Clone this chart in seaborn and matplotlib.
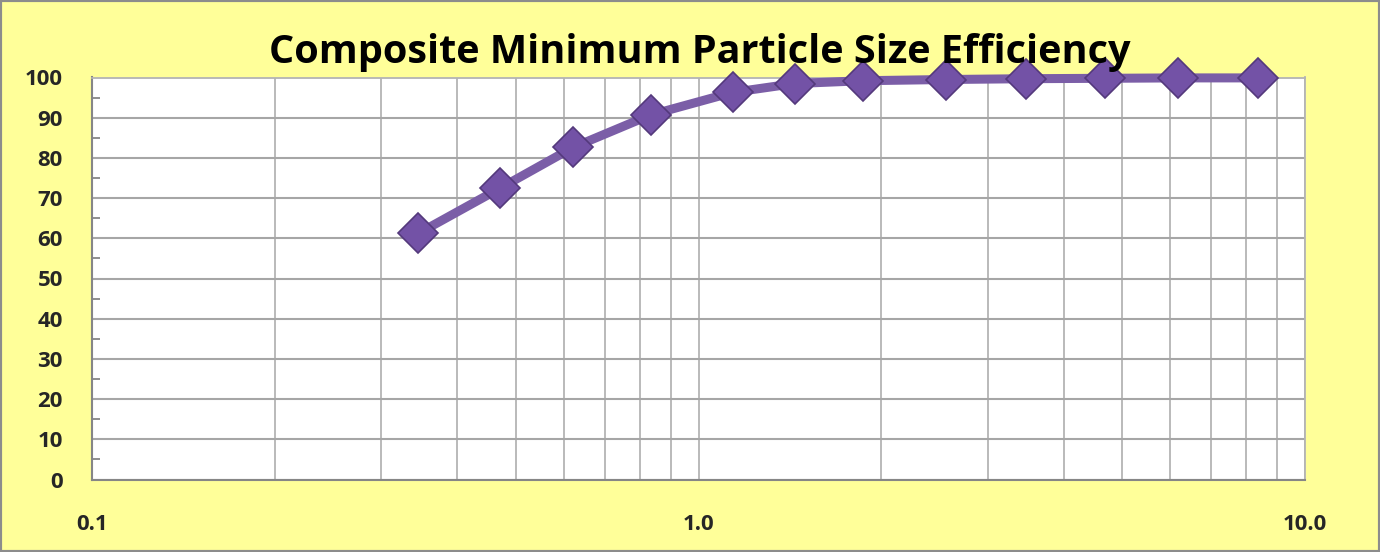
import matplotlib
matplotlib.use("Agg")
import matplotlib.pyplot as plt
import seaborn as sns
import pandas as pd
import numpy as np
from matplotlib.ticker import FixedLocator, LogLocator, MultipleLocator, NullFormatter, FixedFormatter
from matplotlib.patches import Rectangle

# Data
particle_size = [0.345, 0.470, 0.621, 0.834, 1.139, 1.441, 1.870, 2.563, 3.47, 4.68, 6.18, 8.36]
efficiency = [61.2, 72.4, 82.6, 90.7, 96.3, 98.5, 99.2, 99.5, 99.7, 99.8, 99.9, 99.9]
title = "Composite Minimum Particle Size Efficiency"
x_tick_values = [0.1, 1.0, 10.0]
x_tick_labels = ["0.1", "1.0", "10.0"]
y_tick_values = [0, 10, 20, 30, 40, 50, 60, 70, 80, 90, 100]

sns.set_style("white")
plt.rcParams['font.family'] = ['Open Sans', 'DejaVu Sans']

df = pd.DataFrame({"size": particle_size, "eff": efficiency})

fig = plt.figure(figsize=(13.8, 5.52), dpi=100, facecolor="#FFFF99")
ax = fig.add_axes([92/1380, 1-479.5/552, (1305-92)/1380, (479.5-77.5)/552])
ax.set_facecolor("white")

sns.lineplot(data=df, x="size", y="eff", ax=ax, color="#7B5EA7", linewidth=6.5,
             marker="D", markersize=20, markerfacecolor="#7352A6",
             markeredgecolor="#54397C", markeredgewidth=1.2, zorder=5, clip_on=False)

ax.set_xscale("log")
ax.set_xlim(0.1, 10)
ax.set_ylim(0, 100)

ax.xaxis.set_major_locator(FixedLocator(x_tick_values))
ax.xaxis.set_major_formatter(FixedFormatter(x_tick_labels))
ax.xaxis.set_minor_locator(LogLocator(base=10, subs=np.arange(2, 10)))
ax.xaxis.set_minor_formatter(NullFormatter())
ax.yaxis.set_major_locator(FixedLocator(y_tick_values))
ax.yaxis.set_minor_locator(MultipleLocator(5))

ax.grid(True, which="major", axis="y", color="#A6A6A6", linewidth=1.5)
ax.grid(True, which="both", axis="x", color="#B4B4B4", linewidth=1.3)
ax.set_axisbelow(True)

for s in ["top", "right"]:
    ax.spines[s].set_visible(True)
    ax.spines[s].set_color("#B4B4B4")
    ax.spines[s].set_linewidth(1.3)
for s in ["left", "bottom"]:
    ax.spines[s].set_color("#868686")
    ax.spines[s].set_linewidth(1.5)

ax.tick_params(axis="y", which="major", direction="out", length=9, width=1.3, color="#868686",
               labelsize=16, pad=12)
ax.tick_params(axis="y", which="minor", direction="in", length=6, width=1.3, color="#868686", left=True)
ax.tick_params(axis="x", which="major", direction="out", length=9, width=1.3, color="#868686",
               labelsize=16, pad=16)
ax.tick_params(axis="x", which="minor", length=0)
for lab in ax.get_xticklabels() + ax.get_yticklabels():
    lab.set_fontweight("bold")

ax.set_xlabel("")
ax.set_ylabel("")

fig.text(700/1380, 1-52/552, title, ha="center", va="center", fontsize=28.5, fontweight="bold",
         color="black")

fig.patches.append(Rectangle((0, 0), 1, 1, transform=fig.transFigure, fill=False,
                             edgecolor="#8C8C8C", linewidth=3, zorder=10))

fig.savefig("out.png", dpi=100, facecolor=fig.get_facecolor())
